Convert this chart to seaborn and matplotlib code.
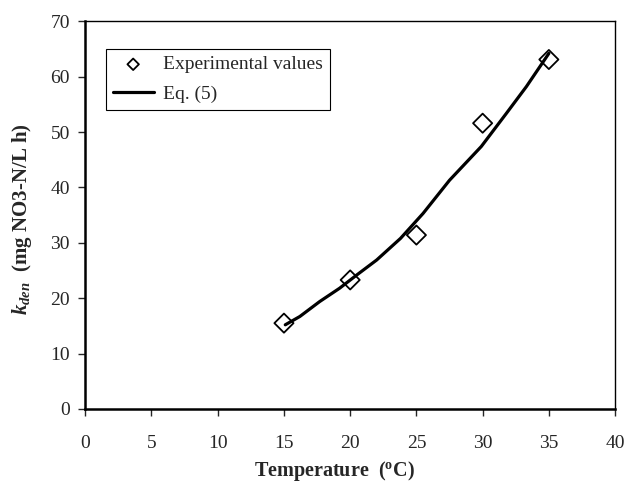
import matplotlib
matplotlib.use("Agg")
import matplotlib.pyplot as plt
import seaborn as sns
import pandas as pd

# Experimental values
temp_exp = [15, 20, 25, 30, 35]
k_exp = [15.5, 23.3, 31.4, 51.6, 63.1]

# Eq. (5) curve
temp_eq = [15.1, 16.2, 17.7, 19.2, 20.5, 22.0, 23.8, 25.5, 27.5, 29.9, 31.8, 33.3, 35.0]
k_eq = [15.2, 16.7, 19.4, 21.8, 24.2, 26.9, 30.8, 35.3, 41.3, 47.4, 53.4, 58.2, 64.2]

x_ticks = [0, 5, 10, 15, 20, 25, 30, 35, 40]
y_ticks = [0, 10, 20, 30, 40, 50, 60, 70]

sns.set_style("white")
plt.rcParams['font.family'] = ['Liberation Serif', 'DejaVu Serif']
plt.rcParams['mathtext.fontset'] = 'custom'
plt.rcParams['mathtext.rm'] = 'Liberation Serif'
plt.rcParams['mathtext.it'] = 'Liberation Serif:italic'
plt.rcParams['mathtext.bf'] = 'Liberation Serif:bold'
plt.rcParams['mathtext.bfit'] = 'Liberation Serif:italic:bold'

df_exp = pd.DataFrame({"T": temp_exp, "k": k_exp})
df_eq = pd.DataFrame({"T": temp_eq, "k": k_eq})

fig = plt.figure(figsize=(6.27, 4.84), dpi=100)
ax = fig.add_axes([0.136, 0.155, 0.845, 0.801])

sns.lineplot(data=df_eq, x="T", y="k", ax=ax, color="black", linewidth=2.3,
             label="Eq. (5)", zorder=2)
sns.scatterplot(data=df_exp, x="T", y="k", ax=ax, marker="D", s=95,
                facecolor="none", edgecolor="black", linewidth=1.3,
                label="Experimental values", zorder=3)

ax.set_xlim(0, 40)
ax.set_ylim(0, 70)
ax.set_xticks(x_ticks)
ax.set_yticks(y_ticks)
ax.tick_params(axis='both', direction='out', length=5, width=1, labelsize=14,
               bottom=True, left=True)
ax.tick_params(axis='x', pad=14)
ax.tick_params(axis='y', pad=6)

for side in ["left", "bottom"]:
    ax.spines[side].set_linewidth(1.8)
    ax.spines[side].set_color("black")
for side in ["top", "right"]:
    ax.spines[side].set_linewidth(1.0)
    ax.spines[side].set_color("black")
    ax.spines[side].set_visible(True)

ax.set_xlabel(r"Temperature  ($\mathbf{^{o}}$C)", fontsize=14.5, fontweight="bold")
ax.xaxis.set_label_coords(0.471, -0.13)
ax.set_ylabel(r"$\mathbfit{k}_{\mathbfit{den}}$  (mg NO3-N/L h)", fontsize=15,
              fontweight="bold")
ax.yaxis.set_label_coords(-0.097, 0.49)

handles, labels = ax.get_legend_handles_labels()
order = [labels.index("Experimental values"), labels.index("Eq. (5)")]
leg = ax.legend([handles[i] for i in order], [labels[i] for i in order],
                loc="upper left", bbox_to_anchor=(0.039, 0.9286), borderaxespad=0,
                fontsize=14, frameon=True, fancybox=False, edgecolor="black",
                framealpha=1, borderpad=0.35, labelspacing=0.6, handlelength=2.1,
                handletextpad=0.5, markerscale=0.6)
leg.get_frame().set_linewidth(0.8)

fig.savefig("out.png", dpi=100)
